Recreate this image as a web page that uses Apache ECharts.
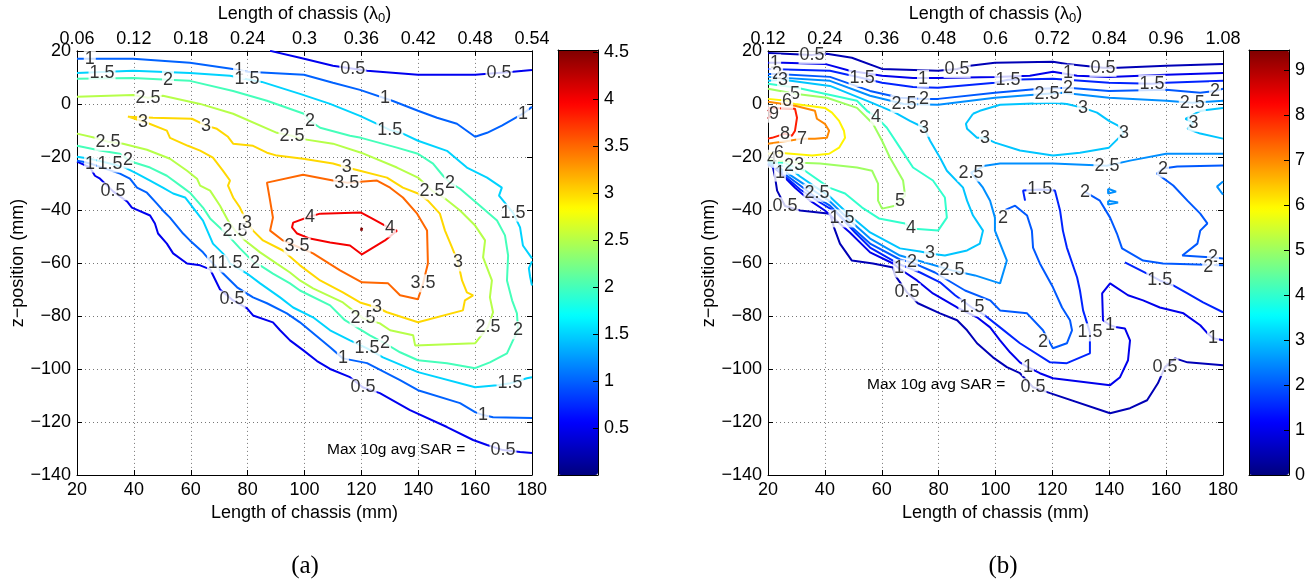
<!DOCTYPE html>
<html>
<head>
<meta charset="UTF-8">
<title>SAR contours</title>
<script src="https://cdn.jsdelivr.net/npm/echarts@6/dist/echarts.min.js"></script>
<style>
  html, body { margin: 0; padding: 0; background: #fff; }
  #chart { width: 1312px; height: 585px; }
</style>
</head>
<body>
<div id="chart"></div>
<script>
// ---- (a) contour lines, [x mm, z mm] ----
var a05 = [
  [[87.9,20],[98.4,17.4],[110,14.4],[122,12.5],[139.9,11],[160,11],[173.3,12.1],[180,12.8]],
  [[20,-21.8],[24.6,-24],[26.3,-27.1],[28.1,-28.2],[32.7,-33],[37.6,-36.8],[39.3,-39.1],[45.7,-42.1],[47.4,-45.1],[48.5,-48.9],[51.6,-52.7],[53.8,-56.4],[58.7,-60.2],[63.3,-60.9],[66.8,-62.4],[70.3,-70],[74.5,-73.8],[79.8,-77.1],[81.9,-79.8],[88.9,-82.4],[91.4,-85.4],[94.9,-89.2],[99.5,-92.9],[104.4,-97],[109,-100],[116,-103.1],[120.6,-107],[126.5,-109.1],[137.1,-115.5],[150.1,-121.9],[159.3,-126.8],[164.2,-128.7],[169.8,-130.6],[175.8,-131.3],[180,-131.7]]
];
var a1 = [
  [[20,17],[27,17],[39.7,17],[59.7,15.5],[74.8,13.2],[80.1,12.1],[99.8,11],[110,8],[119.5,5.3],[131.1,1.1],[139.9,-2.6],[146.6,-5.2],[153.6,-7.5],[160,-12.4],[164.2,-10.9],[169.4,-8.2],[176.8,-3.7],[180,-1.1]],
  [[20,-21.4],[22.1,-21.8],[24.6,-22.5],[35.1,-26.3],[38.6,-28.2],[41.1,-31.6],[44.6,-33.5],[48.1,-37.6],[50.2,-40.2],[52.7,-42.9],[57.3,-48.9],[59.7,-51.5],[64.3,-56],[66.8,-59.1],[67.8,-60.2],[76.3,-69.2],[81.9,-73],[86.8,-75.2],[93.8,-79],[98.4,-82.4],[109,-91.8],[113.5,-96],[122,-97.8],[133.6,-104.2],[139.9,-108],[154.7,-112.9],[160,-116.3],[162.8,-117.4],[166.3,-118.2],[180,-118.5]]
];
var a15 = [
  [[20,11.7],[39.7,12.5],[59.7,11.7],[73.8,10.6],[79.8,9.3],[85,8.3],[98.4,3.8],[109,0],[119.5,-4.5],[130,-9.8],[134.6,-11.2],[139.9,-13.9],[150.1,-17.7],[157.1,-24],[164.2,-27.8],[169.4,-31.6],[168.4,-34.6],[173.3,-41],[175.8,-46.6],[176.8,-53.4],[180,-58.3]],
  [[180,-59.4],[178.9,-62],[179.3,-65],[180,-68.5]],
  [[20,-19.9],[24.6,-20.7],[31.6,-22.5],[36.9,-24],[41.1,-26.3],[45.7,-28.9],[50.2,-31.6],[53.8,-33.8],[58,-35.3],[59.7,-37.6],[64.3,-44],[67.8,-52.7],[72.7,-57.9],[73.8,-60.2],[79.8,-64],[84.4,-67.7],[91.4,-73],[96,-76.8],[103,-80.5],[109,-85.4],[116,-89.2],[122,-92.2],[127.6,-95.6],[139.9,-101.2],[160,-106.9],[167.7,-106.1],[172.3,-105.4],[178.2,-103.5],[180,-103.1]]
];
var a2 = [
  [[20,9.5],[39.7,9.8],[52,9.1],[59.7,8.7],[74.9,4.9],[86.8,1.2],[99.8,-3.7],[101.9,-6.4],[105.5,-9],[116,-12],[119.9,-12.8],[132.5,-16.5],[139.9,-18.8],[145.2,-22.5],[148.7,-27.1],[151.2,-29.7],[154.7,-32],[161.7,-38.4],[167.7,-44],[170.5,-49.6],[171.6,-57.2],[171.2,-66.6],[173,-74.1],[174.7,-79],[175.1,-85.4],[173.3,-89.2],[171.2,-94.1],[165.2,-97.5],[160,-99.7],[150.1,-97.8],[139.9,-96.7],[133.6,-93.7],[128.3,-90.3],[123,-87.3],[114.2,-81.6],[109,-76],[98.4,-70.4],[94.9,-67.7],[88.9,-64],[84.4,-60.9],[82.6,-60.2],[77.3,-54.5],[73.1,-49.6],[66.8,-43.2],[64.3,-39.1],[59.7,-33.5],[57.3,-31.6],[51.6,-27.1],[45.7,-24],[40.4,-22.2],[37.9,-21],[35.1,-18.8],[28.1,-17.6],[20,-15.8]]
];
var a25 = [
  [[20,2.7],[39.7,3.4],[45,2.3],[50.2,3.1],[63.3,0],[74.9,-3.7],[90.3,-10.9],[95.6,-12],[98.4,-13.1],[110,-15],[119.9,-18.4],[132.5,-24],[139.9,-27.8],[144.8,-32.7],[149.4,-35.7],[154.7,-40.2],[160,-45.9],[163.5,-51.5],[162.8,-57.9],[165.9,-66.6],[165.2,-73],[166.3,-78.6],[164.5,-84.3],[161.7,-88],[160,-90.3],[138.9,-91.1],[138.2,-87.3],[130.1,-85.4],[126.5,-82.8],[120.6,-80.9],[113.5,-74.9],[103,-69.6],[98.4,-66.6],[94.9,-63.6],[89.6,-59.8],[84.4,-56],[79.1,-51.5],[75.6,-47.8],[73.1,-44],[70.3,-38.4],[66.8,-32.7],[63.3,-30.8],[62.2,-28.2],[58.7,-25.2],[52.7,-20.7],[44.6,-17.3],[36.2,-15],[30.9,-14.3],[26.3,-12.8],[20,-11.2]]
];
var a3 = [
  [[37.9,-4.8],[46.7,-5.2],[60.4,-5.6],[65.4,-8.2],[69.2,-9.4],[73.1,-12.4],[74.9,-15],[81.9,-15.8],[86.8,-18.4],[90.3,-19.5],[99.5,-20.7],[110,-22.5],[114.9,-24],[119.5,-25.2],[129,-27.8],[134.6,-31.6],[139.9,-33.8],[143.4,-36.5],[147.6,-41.4],[149.4,-47.8],[151.9,-54.2],[154,-59.8],[155.4,-66.6],[157.1,-71.1],[159.3,-72.2],[156.4,-74.1],[155.7,-77.9],[139.9,-82.4],[129,-78.6],[125.5,-76.8],[119.5,-74.9],[113.5,-71.1],[105.5,-66.6],[98.4,-60.9],[92.4,-55.3],[85.4,-51.5],[81.9,-47.8],[79.8,-44.8],[77.3,-39.1],[74.9,-35.3],[73.1,-30.8],[73.8,-28.9],[71.3,-25.2],[67.8,-20.3],[63.3,-17.6],[59,-15.8],[52.7,-12.8],[51.6,-10.1],[44.6,-7.1],[37.9,-4.8]]
];
var a35 = [
  [[143.4,-60.2],[143.1,-47.8],[139.6,-41.4],[134.6,-35.3],[130.1,-31.6],[125.5,-28.9],[114.9,-29.7],[110,-28.9],[99.5,-26.7],[86.8,-29.7],[87.9,-36.5],[88.9,-42.9],[87.9,-47.8],[92.4,-51.5],[97.4,-53.8],[103,-56.4],[112.5,-62.8],[120.2,-67.3],[129.4,-67.7],[133.6,-72.2],[139.9,-73.7],[141.7,-67.7],[143.4,-60.2]]
];
var a4 = [
  [[105.5,-41.4],[119.9,-41],[123.7,-43.2],[130.1,-47],[132.5,-47.8],[128.3,-51.5],[120.2,-56.8],[116,-53.4],[109,-52.3],[101.9,-50.8],[97.4,-48.9],[95.6,-46.6],[96,-44.8],[101.9,-42.5],[105.5,-41.4]]
];
var a45 = [[[119.6,-47.2],[120.5,-47.4]]];
var levelsA = [[0.5,a05],[1,a1],[1.5,a15],[2,a2],[2.5,a25],[3,a3],[3.5,a35],[4,a4],[4.5,a45]];
var labelsA = [
  [117,13.2,'0.5'],[168.4,11.7,'0.5'],[32.7,-33,'0.5'],[74.5,-73.8,'0.5'],[120.6,-107,'0.5'],[169.8,-130.6,'0.5'],
  [24.5,17,'1'],[77,12.8,'1'],[128.3,2.3,'1'],[176.8,-3.7,'1'],[24.6,-22.5,'1'],[67.8,-60.2,'1'],[113.5,-96,'1'],[162.8,-117.4,'1'],
  [28.8,11.5,'1.5'],[79.8,9.3,'1.5'],[130,-9.8,'1.5'],[173.3,-41,'1.5'],[31.6,-22.5,'1.5'],[73.8,-60.2,'1.5'],[122,-92.2,'1.5'],[172.3,-105.4,'1.5'],
  [52,9.1,'2'],[101.9,-6.4,'2'],[151.2,-29.7,'2'],[175.1,-85.4,'2'],[128.3,-90.3,'2'],[82.6,-60.2,'2'],[37.9,-21,'2'],
  [45,2.3,'2.5'],[95.6,-12,'2.5'],[144.8,-32.7,'2.5'],[164.5,-84.3,'2.5'],[120.6,-80.9,'2.5'],[75.6,-47.8,'2.5'],[30.9,-14.3,'2.5'],
  [43.2,-6.7,'3'],[65.4,-8.2,'3'],[114.9,-24,'3'],[154,-59.8,'3'],[125.5,-76.8,'3'],[79.8,-44.8,'3'],
  [114.9,-29.7,'3.5'],[97.4,-53.8,'3.5'],[141.7,-67.7,'3.5'],
  [101.9,-42.5,'4'],[130.1,-47,'4']
];

// ---- (b) contour lines ----
var b05 = [
  [[20,19.2],[35.5,18.5],[40.7,18.9],[49.5,17.4],[60.1,13.2],[79.8,12.5],[86.5,13.2],[91,14.4],[99.8,15.5],[120.2,15.9],[125.1,15.1],[137.8,13.6],[143.1,13.6],[160,14.4],[180,15.1]],
  [[20,-21.4],[21.4,-22.2],[22.5,-27.8],[23.2,-32.7],[26,-38.5],[31.3,-40.2],[41.8,-41.4],[43.2,-46.6],[45.3,-52.7],[49.5,-59.1],[56.9,-60.2],[64,-61.7],[64.7,-64.7],[68.9,-71.1],[72.7,-75.2],[80.5,-79],[86.5,-81.6],[90,-85.4],[93.5,-90.3],[99.1,-95.6],[104,-99.3],[108.6,-101.6],[113.2,-106.9],[119.2,-109.1],[140.3,-116.7],[147.3,-114.8],[153.3,-111.8],[157.1,-105.4],[159.6,-99.3],[163.2,-96],[167.5,-97.5],[180,-98.6]]
];
var b1 = [
  [[20,15.5],[25.3,15.5],[40,15.1],[48.8,12.5],[60.1,10.6],[71,9.8],[79.8,9.8],[99.8,10.2],[112.1,10.6],[120.2,12.1],[128.7,10.6],[139.9,10.2],[160,11],[180,11.7]],
  [[20,-22.5],[24.2,-25.9],[29.5,-31.6],[34.8,-36.5],[40,-40.2],[48.8,-48.5],[55.9,-56],[64,-60.2],[66.1,-62.1],[72.4,-66.6],[78,-71.5],[86.5,-76.8],[93.5,-80.5],[98.1,-84.3],[101.6,-89.2],[105.1,-93.7],[108.6,-97.5],[111.4,-99.3],[115.6,-101.6],[120.2,-103.5],[140.3,-106.1],[143.8,-103.1],[146.6,-96.7],[147.3,-89.2],[145.5,-84.7],[142.7,-84.3],[140.3,-83.5],[137.8,-81.6],[137.5,-71.5],[140.3,-67.7],[146.6,-72.2],[151.9,-74.1],[157.8,-76.8],[166.1,-79],[172,-83.5],[174.5,-86.5],[176.5,-88.4],[180,-89.2]]
];
var b15 = [
  [[20,13.2],[41.8,12.5],[53.1,9.8],[60.1,8],[71,6.4],[79.8,6.1],[99.8,8],[104.4,9.1],[120.2,9.5],[139.9,8],[155,7.6],[160,8],[180,8.7]],
  [[20,-22.9],[22.8,-24.4],[31.3,-32.3],[38.3,-37.2],[43.6,-40.6],[46,-43.2],[50.6,-48.5],[55.9,-54.2],[66.4,-60.6],[73.5,-63.6],[80.5,-67.3],[85.8,-72.2],[91.7,-76.8],[96.3,-79.8],[101.6,-84.3],[108.6,-90.3],[119.2,-97.5],[125.1,-97.8],[133.2,-94.1],[133.2,-86.2],[130.8,-77.9],[129.7,-70.4],[128.7,-65.5],[125.1,-54.2],[123.7,-47.8],[122.7,-40.2],[120.9,-32.7],[115.6,-32.3],[109.7,-32.7],[110.4,-36.5]],
  [[145.5,-59.8],[153.3,-64],[157.8,-66.6],[162.5,-68.5],[167.5,-71.5],[173,-74.9],[180,-78.6]]
];
var b2 = [
  [[20,11.3],[23.2,11.3],[41.8,10.2],[55.9,4.9],[66.4,2.3],[74.9,1.9],[79.8,1.9],[99.8,4.2],[115.6,5.7],[125.5,6.1],[139.9,4.9],[160,5.3],[172,4.2],[177.2,4.9],[180,5.7]],
  [[20,-22.5],[22.8,-24],[31.3,-30.8],[36.5,-35],[41.8,-38.4],[48.8,-45.9],[55.9,-52.7],[66.4,-58.7],[70.6,-59.8],[78.7,-63.6],[89.3,-70.4],[98.1,-74.1],[101.6,-77.9],[111.1,-79],[116.7,-85.4],[120.2,-92.2],[125.1,-90.3],[126.9,-85.4],[126.2,-81.6],[123.4,-76.8],[120.2,-69.2],[115.6,-60.2],[113.2,-54.2],[112.8,-47.8],[111.1,-42.1],[106.9,-38.4],[103.5,-40]],
  [[180,-23.2],[163.9,-23.6],[158.9,-24.4],[156.8,-26.3],[162.5,-30.8],[167.5,-36.5],[172,-41.4],[174.5,-45.1],[172,-47.8],[171,-52.7],[165.7,-57.2],[176.5,-57.9],[180,-58.3]],
  [[131.5,-33.2],[136.7,-36.5],[140.3,-42.9],[142.7,-48.9],[144.5,-54.5],[151.9,-59.1],[158.9,-60.2],[180,-60.9]]
];
var b25 = [
  [[20,10.2],[41.8,8.7],[55.9,3.1],[67.8,0],[79.8,-0.3],[99.8,2.3],[118.1,3.8],[123.7,4.2],[139.9,2.3],[160,1.2],[169.2,0.4],[180,1.2]],
  [[20,-22.2],[22.8,-23.3],[31.3,-29.3],[37.2,-33.5],[41.8,-36.8],[48.8,-44],[55.9,-50.8],[66.4,-57.2],[75.2,-59.8],[84.7,-62.8],[92.8,-64.7],[101.6,-67.7],[104,-59.1],[99.8,-47.8],[99.8,-42.9],[98.1,-36.5],[95.6,-31.6],[91.4,-25.9],[96.3,-23.3],[101.6,-22.5],[120.2,-22.5],[139.2,-23.3],[147.3,-21.4],[160,-18.8],[180,-18.8]],
  [[139.6,-32],[142.4,-33.1],[139.6,-33.8],[139.6,-32]],
  [[139.6,-36.5],[143.1,-37.2],[139.6,-38],[139.6,-36.5]],
  [[180,-29.3],[177.9,-31.2],[180,-34.2]]
];
var b3 = [
  [[20,8.7],[25.3,9.1],[41.8,6.8],[56.6,0.4],[64.7,-3.3],[69.9,-6.4],[74.9,-9],[77,-13.9],[80.5,-20.3],[82.9,-25.2],[88.6,-31.6],[90,-36.5],[92.1,-42.1],[95.6,-47.8],[94.5,-52.7],[90,-55.3],[82.2,-57.2],[77,-56.4],[73.5,-55.7],[66.4,-54.5],[55.9,-48.5],[48.8,-42.1],[41.8,-35],[36.5,-31.2],[31.3,-27.4],[27.7,-24.4],[22.8,-22.5],[20,-21.8]],
  [[92.1,-3.7],[89.6,-7.5],[90,-9.4],[93.5,-12.8],[96.3,-12.8],[99.8,-14.6],[108.6,-17.6],[120.2,-19.5],[129.7,-18.4],[139.9,-16.5],[143.1,-13.1],[145.2,-10.9],[143.1,-8.2],[139.9,-6.4],[135.7,-3.3],[130.8,-1.5],[125.1,0],[120.2,0.4],[101.6,-0.3],[94.5,-2.6],[92.1,-3.7]],
  [[180,-1.5],[172,-2.6],[166.8,-5.6],[169.6,-7.1],[167.5,-9.4],[172,-11.2],[180,-13.1]]
];
var b4 = [
  [[20,7.6],[30.2,6.1],[51.3,1.2],[54.8,-2.6],[58,-4.8],[61.8,-9],[66.4,-16.5],[71,-24],[78,-28.9],[82.2,-35.3],[82.9,-42.9],[79.8,-47.8],[70.3,-47],[68.2,-45.1],[59,-43.2],[53.1,-39.1],[47.1,-33.8],[41.5,-31.6],[33,-25.2],[26,-22.5],[20,-21.4]]
];
var b5 = [
  [[20,5.7],[29.5,3.8],[40.7,2.3],[51.3,-1.5],[56.9,-7.5],[60.1,-13.9],[62.9,-20.3],[67.5,-28.9],[68.2,-34.6],[66.4,-36.5],[64.7,-38.4],[60.1,-39.5],[58.7,-36.5],[58.7,-30.1],[56.6,-25.2],[51.3,-24],[38.3,-22.5],[31.3,-22.2],[20,-21]]
];
var b6 = [
  [[20,1.9],[26.7,1.2],[29.5,0],[40,-1.5],[42.5,-3.3],[45,-6.4],[46.7,-10.1],[47.1,-12.8],[45,-16.5],[41.5,-18.8],[35.5,-19.5],[23.9,-18.4],[20,-18.8]]
];
var b7 = [
  [[20,0.8],[29.5,-0.7],[36.5,-2.6],[37.2,-5.6],[40,-7.5],[41.5,-10.1],[40.7,-12.8],[36.5,-13.1],[32,-13.1],[27.4,-13.9],[20,-15]]
];
var b8 = [
  [[20,-1.5],[29.5,-1.8],[30.2,-5.2],[29.5,-10.1],[28.4,-12],[26,-11.2],[21.4,-12.8],[20,-13.1]]
];
var b9 = [[[20,-2.2],[21,-3.7],[20,-5.6]]];
var levelsB = [[0.5,b05],[1,b1],[1.5,b15],[2,b2],[2.5,b25],[3,b3],[4,b4],[5,b5],[6,b6],[7,b7],[8,b8],[9,b9]];
var labelsB = [
  [35.5,18.5,'0.5'],[86.5,13.2,'0.5'],[137.8,13.6,'0.5'],[26,-38.6,'0.5'],[68.9,-71.1,'0.5'],[113.2,-106.9,'0.5'],[159.6,-99.3,'0.5'],
  [22.5,15.3,'1'],[74.5,9.5,'1'],[125.5,11.5,'1'],[24.2,-25.9,'1'],[66.1,-62.1,'1'],[111.4,-99.3,'1'],[140.3,-83.5,'1'],[176.5,-88.4,'1'],
  [53.1,9.8,'1.5'],[104.4,9.1,'1.5'],[155,7.6,'1.5'],[46,-43.2,'1.5'],[91.7,-76.8,'1.5'],[133.2,-86.2,'1.5'],[115.6,-32.3,'1.5'],[157.8,-66.6,'1.5'],
  [23.2,11.3,'2'],[74.9,1.9,'2'],[125.5,6.1,'2'],[177.2,4.9,'2'],[27.4,-23.3,'2'],[70.6,-59.8,'2'],[116.7,-89.9,'2'],[102.6,-43.2,'2'],[158.9,-24.4,'2'],[176.5,-57.9,'2'],[174.8,-61.7,'2'],[131.5,-33.2,'2'],
  [67.8,0,'2.5'],[118.1,3.8,'2.5'],[169.2,0.4,'2.5'],[37.2,-33.5,'2.5'],[84.7,-62.8,'2.5'],[91.4,-25.9,'2.5'],[139.2,-23.3,'2.5'],
  [25.3,9.1,'3'],[74.9,-9,'3'],[96.3,-12.8,'3'],[130.8,-1.5,'3'],[145.2,-10.9,'3'],[169.6,-7.1,'3'],[77,-56.4,'3'],[31,-23,'3'],
  [58,-4.8,'4'],[70.3,-47,'4'],[21.4,-20.7,'4'],
  [29.5,3.8,'5'],[66.4,-36.5,'5'],
  [26.7,1.2,'6'],[23.9,-18.4,'6'],
  [32,-13.1,'7'],[26,-11.2,'8'],[22.1,-3.7,'9']
];

// colour scale limits of the two colorbars
var cmaxA = 4.52, cmaxB = 9.44;
var jetStops = ['#00007f','#0000ff','#007fff','#00ffff','#7fff7f','#ffff00','#ff7f00','#ff0000','#7f0000'];

function jet(t) {
    function c(v) { return Math.round(255 * Math.max(0, Math.min(1, v))); }
    var r = Math.min(4 * t - 1.5, -4 * t + 4.5);
    var g = Math.min(4 * t - 0.5, -4 * t + 3.5);
    var b = Math.min(4 * t + 0.5, -4 * t + 2.5);
    return 'rgb(' + c(r) + ',' + c(g) + ',' + c(b) + ')';
}

var FONT = 'Liberation Sans';
var chart = echarts.init(document.getElementById('chart'));
var series = [];

function addPlot(levels, labels, cmax, axisIdx) {
    levels.forEach(function (lv) {
        lv[1].forEach(function (seg) {
            series.push({
                type: 'line', xAxisIndex: axisIdx, yAxisIndex: axisIdx,
                data: seg, symbol: 'none', silent: true, z: 2,
                lineStyle: {width: lv[0] > cmax * 0.97 ? 3 : 2, color: jet(lv[0] / cmax)}
            });
        });
    });
    series.push({
        type: 'scatter', xAxisIndex: axisIdx, yAxisIndex: axisIdx,
        data: labels, symbolSize: 1, silent: true, z: 5,
        itemStyle: {color: 'rgba(0,0,0,0)'},
        label: {
            show: true, position: 'inside', color: '#000',
            textBorderWidth: 0, textBorderColor: 'transparent',
            fontFamily: FONT, fontSize: 18, lineHeight: 18,
            backgroundColor: '#fff', padding: [0, 1, 0, 1],
            formatter: function (p) { return p.value[2]; }
        }
    });
}
addPlot(levelsA, labelsA, cmaxA, 0);
addPlot(levelsB, labelsB, cmaxB, 2);
// empty holders the two colorbars are bound to
var cbSeriesA = series.length;
series.push({type: 'scatter', xAxisIndex: 1, yAxisIndex: 1, data: []});
var cbSeriesB = series.length;
series.push({type: 'scatter', xAxisIndex: 3, yAxisIndex: 3, data: []});

var lab = {color: '#000', fontFamily: FONT, fontSize: 18};
var black = {onZero: false, lineStyle: {color: '#000', width: 1}};
var dotted = {show: true, lineStyle: {color: '#777', type: [1, 3], width: 1}};
function minus(v) { return v < 0 ? '\u2212' + (-v) : String(v); }

function plotAxes(gi, topMin, topMax, topStep) {
    var x = [
        {gridIndex: gi, type: 'value', min: 20, max: 180, interval: 20, position: 'bottom',
         name: 'Length of chassis (mm)', nameLocation: 'middle', nameGap: 24,
         nameTextStyle: {color: '#000', fontFamily: FONT, fontSize: 18},
         axisLine: black, axisTick: {inside: true, length: 5, lineStyle: {color: '#000'}},
         axisLabel: Object.assign({margin: 6}, lab), splitLine: dotted},
        {gridIndex: gi, type: 'value', min: topMin, max: topMax, interval: topStep, position: 'top',
         name: 'Length of chassis (\u03bb{s|0})', nameLocation: 'middle', nameGap: 22,
         nameTextStyle: {color: '#000', fontFamily: FONT, fontSize: 18,
             rich: {s: {fontFamily: FONT, fontSize: 13, padding: [9, 0, 0, 0]}}},
         axisLine: black, axisTick: {inside: true, length: 5, lineStyle: {color: '#000'}},
         axisLabel: Object.assign({margin: 3, formatter: function (v) { return String(+v.toFixed(2)); }}, lab),
         splitLine: {show: false}}
    ];
    var y = [
        {gridIndex: gi, type: 'value', min: -140, max: 20, interval: 20, position: 'left',
         name: 'z\u2212position (mm)', nameLocation: 'middle', nameGap: 50,
         nameTextStyle: {color: '#000', fontFamily: FONT, fontSize: 18},
         axisLine: black, axisTick: {inside: true, length: 5, lineStyle: {color: '#000'}},
         axisLabel: Object.assign({margin: 6, formatter: minus}, lab), splitLine: dotted},
        {gridIndex: gi, type: 'value', min: -140, max: 20, interval: 20, position: 'right',
         axisLine: black, axisTick: {inside: true, length: 5, lineStyle: {color: '#000'}},
         axisLabel: {show: false}, splitLine: {show: false}}
    ];
    return {x: x, y: y};
}
function barAxes(gi, cmax, step) {
    var plain = {gridIndex: gi, type: 'value', min: 0, max: 1, axisLine: black,
                 axisTick: {show: false}, axisLabel: {show: false}, splitLine: {show: false}, z: 6};
    var x = [Object.assign({position: 'bottom'}, plain), Object.assign({position: 'top'}, plain)];
    var y = [
        {gridIndex: gi, type: 'value', min: 0, max: cmax, interval: step, position: 'right', z: 6,
         axisLine: black, axisTick: {inside: true, length: 5, lineStyle: {color: '#000'}},
         axisLabel: Object.assign({margin: 6, showMaxLabel: false, showMinLabel: step === 1}, lab),
         splitLine: {show: false}},
        Object.assign({position: 'left'}, plain, {min: 0, max: cmax})
    ];
    return {x: x, y: y};
}

var pA = plotAxes(0, 0.06, 0.54, 0.06), cA = barAxes(1, cmaxA, 0.5);
var pB = plotAxes(2, 0.12, 1.08, 0.12), cB = barAxes(3, cmaxB, 1);
// axis order: index 0 plot A, 1 bar A, 2 plot B, 3 bar B (primary), then the companions
var xAxes = [pA.x[0], cA.x[0], pB.x[0], cB.x[0], pA.x[1], cA.x[1], pB.x[1], cB.x[1]];
var yAxes = [pA.y[0], cA.y[0], pB.y[0], cB.y[0], pA.y[1], cA.y[1], pB.y[1], cB.y[1]];

var option = {
    animation: false,
    backgroundColor: '#fff',
    grid: [
        {left: 77, top: 50, width: 455, height: 425},
        {left: 558, top: 50, width: 40, height: 425},
        {left: 768, top: 50, width: 455, height: 425},
        {left: 1249, top: 50, width: 40, height: 425}
    ],
    xAxis: xAxes,
    yAxis: yAxes,
    visualMap: [
        {type: 'continuous', min: 0, max: cmaxA, seriesIndex: cbSeriesA, calculable: false,
         left: 558, top: 50, itemWidth: 40, itemHeight: 425, padding: 0, z: 1,
         inRange: {color: jetStops}, hoverLink: false},
        {type: 'continuous', min: 0, max: cmaxB, seriesIndex: cbSeriesB, calculable: false,
         left: 1249, top: 50, itemWidth: 40, itemHeight: 425, padding: 0, z: 1,
         inRange: {color: jetStops}, hoverLink: false}
    ],
    graphic: [
        {type: 'text', x: 327, y: 450, z: 20, style: {text: 'Max 10g avg SAR =', fill: '#000',
            font: '15.5px "Liberation Sans"', verticalAlign: 'middle'}},
        {type: 'text', x: 867, y: 385, z: 20, style: {text: 'Max 10g avg SAR =', fill: '#000',
            font: '15.5px "Liberation Sans"', verticalAlign: 'middle'}},
        {type: 'text', x: 305, y: 566, style: {text: '(a)', fill: '#000',
            font: '25px "Liberation Serif"', align: 'center', verticalAlign: 'middle'}},
        {type: 'text', x: 1003, y: 566, style: {text: '(b)', fill: '#000',
            font: '25px "Liberation Serif"', align: 'center', verticalAlign: 'middle'}}
    ],
    series: series
};
chart.setOption(option);
</script>
</body>
</html>
